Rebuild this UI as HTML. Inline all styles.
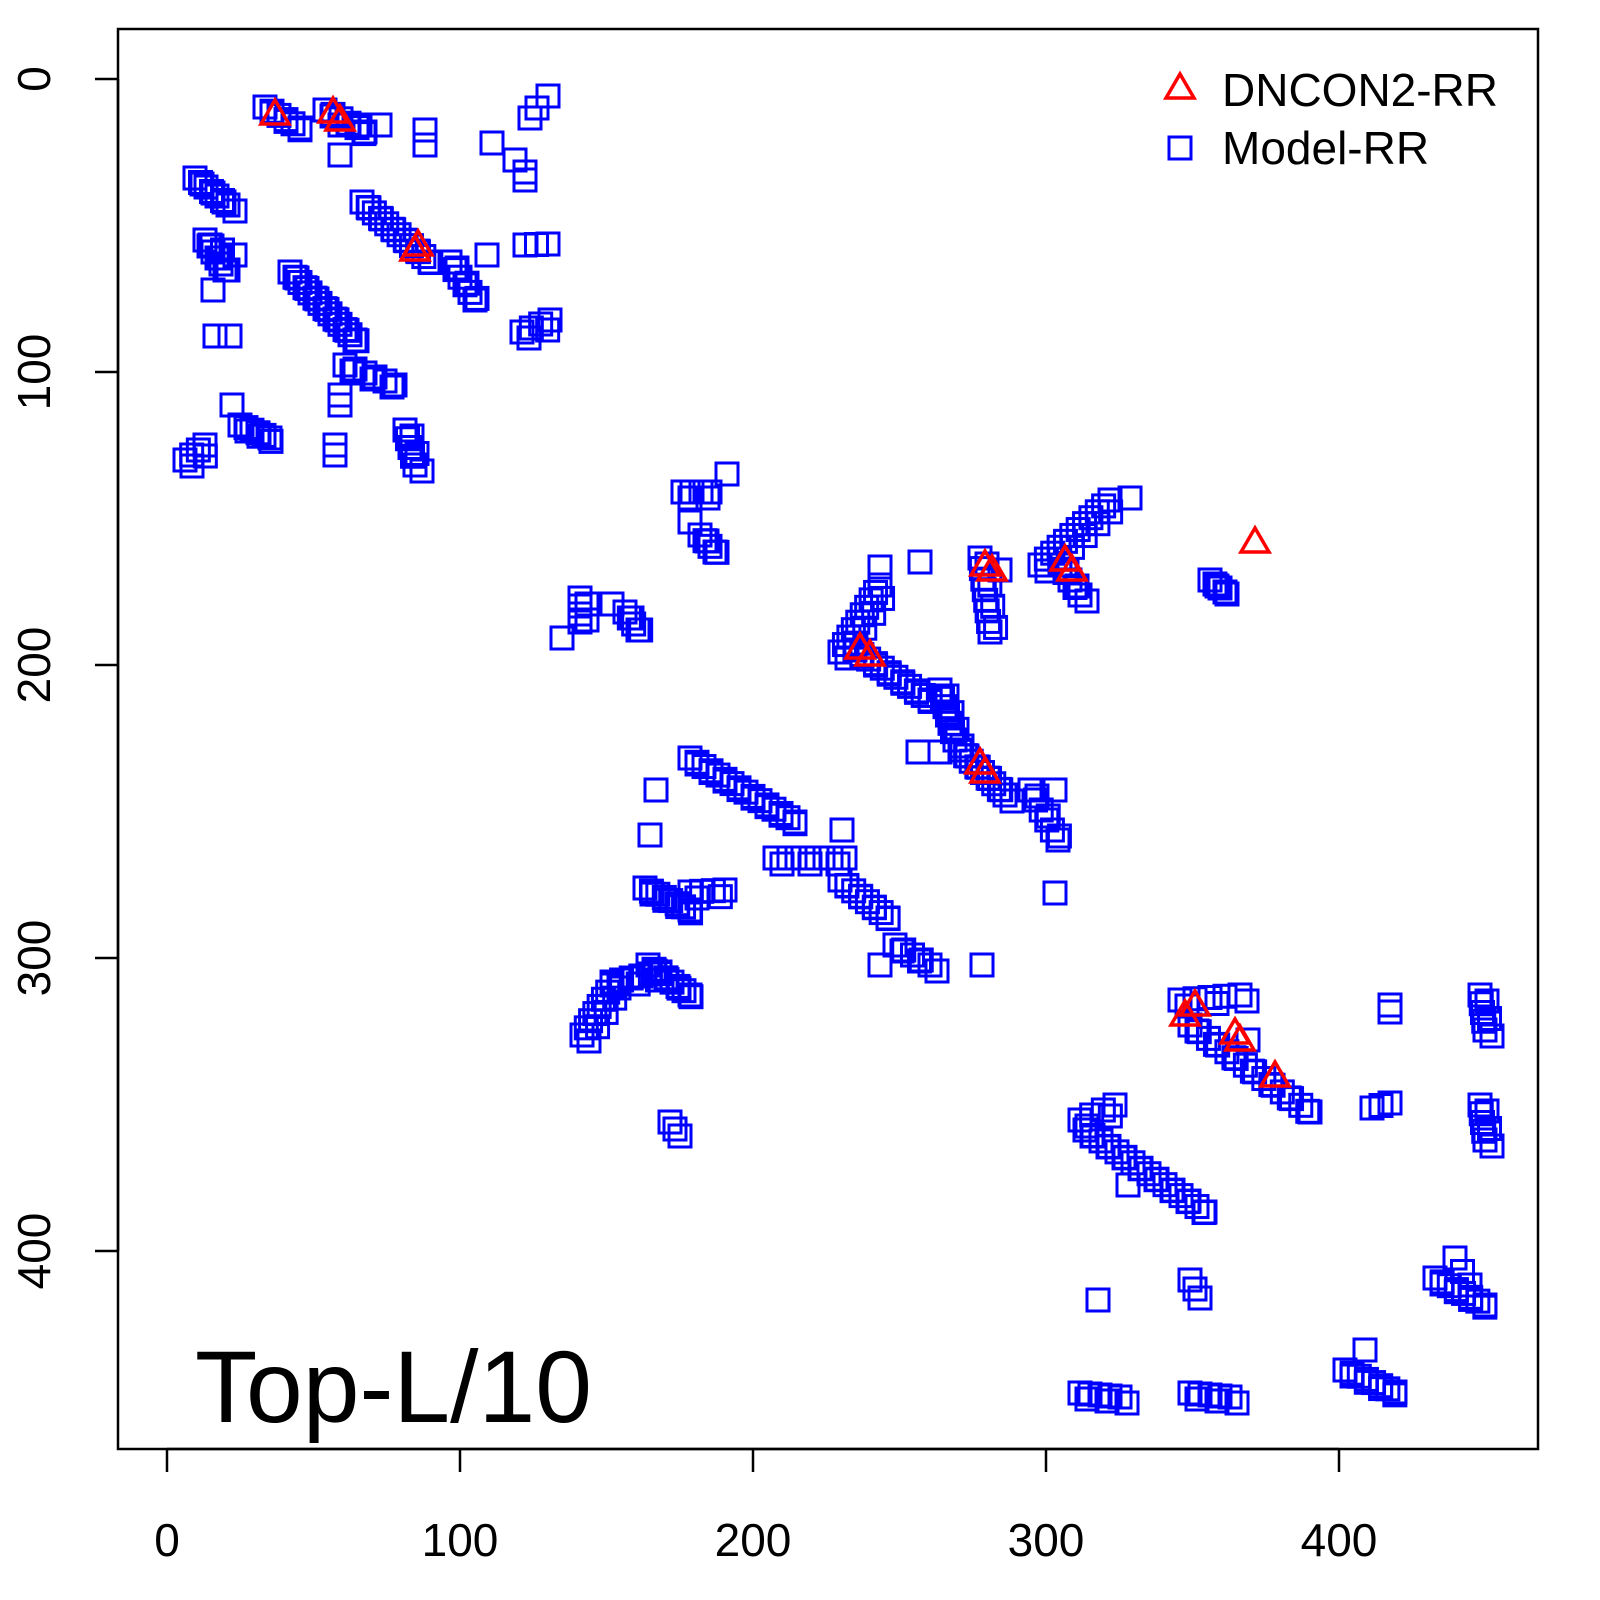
<!DOCTYPE html><html><head><style>html,body{margin:0;padding:0;background:#fff;overflow:hidden}svg{display:block}</style></head><body>
<svg id="s" width="1600" height="1600" xmlns="http://www.w3.org/2000/svg" font-family="Liberation Sans, sans-serif">
<rect x="118" y="29" width="1420" height="1420" fill="none" stroke="#000" stroke-width="2.5"/>
<g stroke="#000" stroke-width="2.5">
<line x1="167" y1="1449" x2="1339" y2="1449"/>
<line x1="167" y1="1449" x2="167" y2="1472"/><line x1="460" y1="1449" x2="460" y2="1472"/><line x1="753" y1="1449" x2="753" y2="1472"/><line x1="1046" y1="1449" x2="1046" y2="1472"/><line x1="1339" y1="1449" x2="1339" y2="1472"/>
<line x1="95" y1="79" x2="118" y2="79"/><line x1="95" y1="372" x2="118" y2="372"/><line x1="95" y1="665" x2="118" y2="665"/><line x1="95" y1="958" x2="118" y2="958"/><line x1="95" y1="1251" x2="118" y2="1251"/>
<line x1="118" y1="79" x2="118" y2="1251"/>
</g>
<g font-size="46" text-anchor="middle" fill="#000">
<text x="167" y="1556">0</text><text x="460" y="1556">100</text><text x="753" y="1556">200</text><text x="1046" y="1556">300</text><text x="1339" y="1556">400</text>
<text transform="translate(50,79) rotate(-90)">0</text><text transform="translate(50,372) rotate(-90)">100</text><text transform="translate(50,665) rotate(-90)">200</text><text transform="translate(50,958) rotate(-90)">300</text><text transform="translate(50,1251) rotate(-90)">400</text>
</g>
<text x="195" y="1422" font-size="102">Top-L/10</text>
<g font-size="46"><text x="1222" y="106">DNCON2-RR</text><text x="1222" y="164">Model-RR</text></g>
<g id="sq" fill="none" stroke="#00f" stroke-width="3"></g>
<g id="tr" fill="none" stroke="#f00" stroke-width="3.5"></g>
</svg>
<script>
var sq=document.getElementById('sq'),tr=document.getElementById('tr');
function R(x,y){var r=document.createElementNS('http://www.w3.org/2000/svg','rect');r.setAttribute('x',x-11);r.setAttribute('y',y-11);r.setAttribute('width',22);r.setAttribute('height',22);sq.appendChild(r);}
function S(x,y){R(x,y);}
function L(x1,y1,x2,y2,n){if(!n)n=1;for(var i=0;i<n;i++){var t=n==1?0:i/(n-1);var x=x1+(x2-x1)*t,y=y1+(y2-y1)*t;R(x,y);if(n>3&&i%2==0){R(x+7,y+6);}}}
function T(x,y){var p=document.createElementNS('http://www.w3.org/2000/svg','polygon');p.setAttribute('points',(x-14)+','+(y+10)+' '+x+','+(y-14)+' '+(x+14)+','+(y+10));tr.appendChild(p);}
L(265,107,300,128,6);L(325,110,365,132,6);L(340,125,380,125,3);S(340,155);S(425,130);S(425,145);
L(195,178,228,205,7);L(205,240,225,270,6);L(210,245,235,255,3);S(213,290);S(215,336);S(230,336);S(232,405);L(240,425,270,438,6);L(185,460,205,445,4);
L(290,272,355,340,14);L(345,365,395,385,6);S(340,395);S(340,405);S(335,455);S(335,445);
L(362,202,430,262,12);L(450,262,475,300,6);S(487,255);
S(492,143);S(515,160);S(525,172);S(525,180);S(530,118);S(537,108);S(548,96);
L(522,332,550,320,4);L(525,245,548,244,3);L(405,430,415,465,5);
L(683,492,710,492,4);S(727,474);S(690,522);L(700,535,715,552,4);
L(580,598,580,622,4);S(562,638);S(612,604);L(625,612,638,630,4);
L(840,652,880,585,10);S(880,567);L(855,650,930,700,12);S(920,562);L(940,690,955,740,7);S(918,752);S(940,752);L(960,750,1005,795,9);
L(980,558,990,632,8);S(1000,570);
L(1040,565,1110,500,12);S(1130,498);L(1060,565,1080,595,5);
L(1210,580,1225,592,4);
S(656,790);S(650,835);L(645,888,690,910,8);L(690,892,725,890,4);
L(690,758,795,822,16);L(775,858,845,858,6);S(842,830);L(840,880,888,918,8);S(880,965);L(895,945,930,965,5);
L(1030,790,1058,840,6);S(1055,790);S(1055,893);S(982,965);
L(582,1035,612,985,8);L(612,982,660,972,6);L(648,965,690,995,8);L(670,1122,680,1136,3);
L(1180,1000,1240,995,5);L(1190,1025,1310,1112,14);S(1248,1040);
L(1080,1120,1115,1105,4);L(1085,1130,1205,1212,16);S(1128,1185);
S(1098,1300);L(1190,1280,1200,1298,3);
L(1080,1393,1120,1397,5);L(1190,1393,1230,1397,5);
L(1390,1005,1390,1012,2);L(1480,995,1485,1030,5);L(1372,1108,1390,1103,3);L(1480,1105,1485,1140,5);
L(1435,1278,1485,1305,8);L(1455,1258,1470,1285,3);
L(1345,1370,1395,1392,8);S(1365,1350);
T(275,114);T(333,112);T(340,120);T(418,245);T(415,250);T(860,648);T(870,655);T(980,763);T(985,772);T(985,565);T(992,570);T(1065,560);T(1072,570);T(1255,542);T(1185,1015);T(1195,1005);T(1235,1033);T(1240,1040);T(1275,1076);
T(1180,88);S(1180,148);
</script>
</body></html>
